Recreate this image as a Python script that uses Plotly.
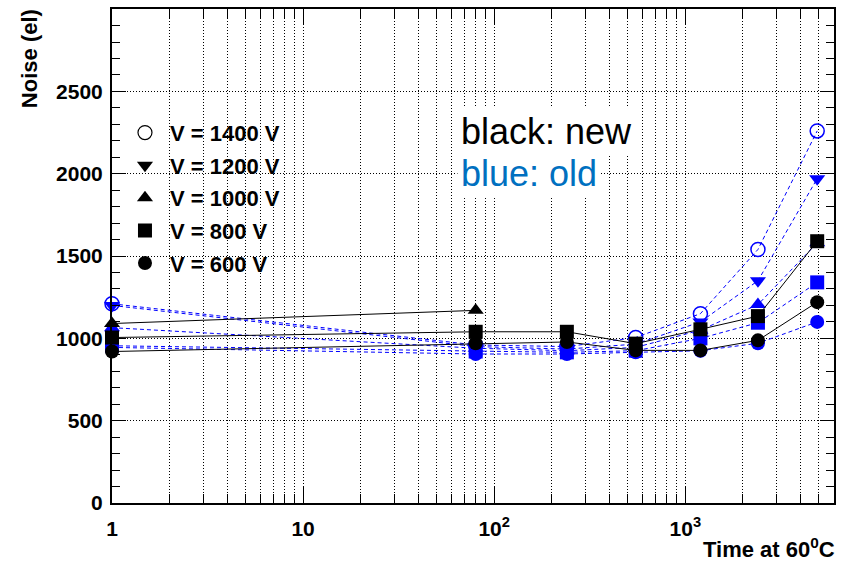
import math
import plotly.graph_objects as go

# Annealing time at 60 C (minutes) and measured noise (electrons)
time_points = [1, 80, 240, 550, 1200, 2400, 4900]
time_new_1000 = [1, 80]

# Old sensors (blue)
old_1400 = [1210, 960, 950, 1005, 1150, 1540, 2260]
old_1200 = [1200, 950, 935, 965, 1100, 1350, 1970]
old_1000 = [1065, 940, 925, 945, 1050, 1205, 1580]
old_800 = [955, 920, 915, 925, 1000, 1095, 1340]
old_600 = [945, 905, 905, 915, 925, 970, 1100]

# New sensors (black)
new_1000 = [1090, 1170]
new_800 = [1005, 1040, 1040, 968, 1055, 1135, 1590]
new_600 = [920, 970, 978, 927, 927, 988, 1220]

legend_labels = ["V = 1400 V", "V = 1200 V", "V = 1000 V", "V = 800 V", "V = 600 V"]
legend_symbols = ["circle-open", "triangle-down", "triangle-up", "square", "circle"]

x_tick_vals = [1, 10, 100, 1000]
x_tick_text = ["1", "10", "10<sup>2</sup>", "10<sup>3</sup>"]
y_tick_vals = [0, 500, 1000, 1500, 2000, 2500, 3000]

BLUE = "#0000ff"
BLACK = "#000000"
FONT = "Liberation Sans"

W, H = 843, 562
L, R, T, B = 112, 7, 8, 59
plot_w = W - L - R
plot_h = H - T - B


def px_x(px):
    return (px - L) / plot_w


def px_y(py):
    return (H - B - py) / plot_h


fig = go.Figure()

old_series = [old_1400, old_1200, old_1000, old_800, old_600]
for vals, sym in zip(old_series, legend_symbols):
    fig.add_trace(go.Scatter(
        x=time_points, y=vals, mode="lines+markers",
        line=dict(color=BLUE, width=1, dash="4px,3px"),
        marker=dict(symbol=sym, size=14, color=BLUE,
                    line=dict(color=BLUE, width=1.5 if sym.endswith("open") else 0)),
        showlegend=False, hoverinfo="skip", cliponaxis=False))

new_series = [(time_new_1000, new_1000, "triangle-up"),
              (time_points, new_800, "square"),
              (time_points, new_600, "circle")]
for xs, vals, sym in new_series:
    fig.add_trace(go.Scatter(
        x=xs, y=vals, mode="lines+markers",
        line=dict(color=BLACK, width=1),
        marker=dict(symbol=sym, size=14, color=BLACK, line=dict(width=0)),
        showlegend=False, hoverinfo="skip", cliponaxis=False))

# legend entries (black markers per voltage)
for i, (lab, sym) in enumerate(zip(legend_labels, legend_symbols)):
    fig.add_trace(go.Scatter(
        x=[None], y=[None], mode="markers", name=lab, legendgroup=f"g{i}",
        marker=dict(symbol=sym, size=14, color=BLACK,
                    line=dict(color=BLACK, width=1.2 if sym.endswith("open") else 0))))

minor_x = [m * 10 ** d for d in range(0, 4) for m in range(2, 10) if m * 10 ** d <= 6000]

axis_common = dict(
    showline=True, linewidth=2, linecolor=BLACK, mirror="ticks",
    ticks="inside", tickcolor=BLACK, tickwidth=1,
    showgrid=True, gridcolor=BLACK, gridwidth=1, griddash="1px,2px",
    zeroline=False,
    tickfont=dict(family=FONT, size=21, color=BLACK, weight="bold"),
)

fig.update_layout(
    width=W, height=H,
    margin=dict(l=L, r=R, t=T, b=B),
    paper_bgcolor="white", plot_bgcolor="white",
    xaxis=dict(
        type="log", range=[0, math.log10(6000)],
        tickvals=x_tick_vals, ticktext=x_tick_text, ticklen=16,
        ticklabelstandoff=6,
        minor=dict(tickvals=minor_x, ticks="inside", ticklen=9, tickcolor=BLACK,
                   showgrid=True, gridcolor=BLACK, gridwidth=1, griddash="1px,2px"),
        **axis_common),
    yaxis=dict(
        range=[0, 3000.5], tickvals=y_tick_vals, ticklen=14, ticklabelstandoff=3,
        minor=dict(dtick=100, ticks="inside", ticklen=8, tickcolor=BLACK, showgrid=False),
        **axis_common),
    legend=dict(
        x=px_x(120), y=px_y(111), xanchor="left", yanchor="top",
        bgcolor="rgba(0,0,0,0)", borderwidth=0, itemwidth=40,
        tracegroupgap=1,
        font=dict(family=FONT, size=22, color=BLACK, weight="bold"),
    ),
    annotations=[
        dict(text="Noise (el)", textangle=-90, xref="paper", yref="paper",
             x=px_x(30), y=px_y(58), xanchor="center", yanchor="middle",
             showarrow=False,
             font=dict(family=FONT, size=22, color=BLACK, weight="bold")),
        dict(text="Time at 60<sup>0</sup>C", xref="paper", yref="paper",
             x=px_x(839), y=px_y(548), xanchor="right", yanchor="middle",
             showarrow=False,
             font=dict(family=FONT, size=22, color=BLACK, weight="bold")),
        dict(text="black: new", xref="paper", yref="paper",
             x=px_x(458), y=px_y(131), xanchor="left", yanchor="middle",
             showarrow=False, bgcolor="white", borderpad=3,
             font=dict(family=FONT, size=36, color=BLACK)),
        dict(text="blue: old", xref="paper", yref="paper",
             x=px_x(458), y=px_y(173), xanchor="left", yanchor="middle",
             showarrow=False, bgcolor="white", borderpad=3,
             font=dict(family=FONT, size=36, color="#0070c0")),
    ],
)

fig.write_html("out.html")
